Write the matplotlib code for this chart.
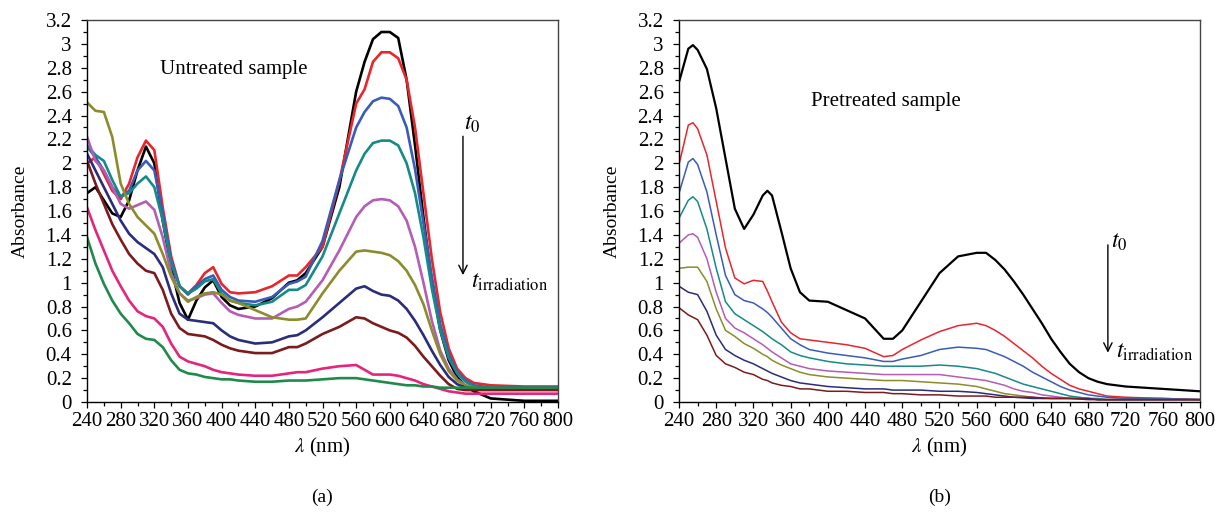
import matplotlib
matplotlib.use("Agg")
import matplotlib.pyplot as plt
from matplotlib.ticker import MultipleLocator

plt.rcParams["font.family"] = ["Liberation Serif", "DejaVu Serif"]
plt.rcParams["mathtext.fontset"] = "stix"

# (a) untreated sample: wavelength grid (nm) and absorbance per irradiation time
nm_a = [240, 250, 260, 270, 280, 290, 300, 310, 320, 330, 340, 350, 360, 370, 380,
        390, 400, 410, 420, 440, 460, 480, 490, 500, 520, 540, 560, 570, 580, 590,
        600, 610, 620, 630, 640, 650, 660, 670, 680, 690, 700, 720, 760, 800]

a_black = [1.75, 1.80, 1.69, 1.58, 1.55, 1.69, 1.94, 2.14, 2.00, 1.52, 1.13, 0.83, 0.69, 0.85, 0.96,
           1.02, 0.88, 0.81, 0.78, 0.80, 0.87, 1.00, 1.02, 1.08, 1.30, 1.80, 2.60, 2.85, 3.04, 3.10,
           3.10, 3.05, 2.70, 2.15, 1.55, 1.00, 0.60, 0.35, 0.21, 0.13, 0.09, 0.03, 0.01, 0.01]
a_red = [2.00, 2.05, 1.91, 1.77, 1.70, 1.83, 2.05, 2.19, 2.11, 1.63, 1.22, 0.97, 0.91, 0.98, 1.08,
         1.13, 0.99, 0.92, 0.91, 0.92, 0.97, 1.06, 1.06, 1.13, 1.30, 1.85, 2.50, 2.62, 2.85, 2.93,
         2.93, 2.88, 2.70, 2.30, 1.75, 1.20, 0.75, 0.45, 0.28, 0.20, 0.16, 0.14, 0.13, 0.13]
a_blue = [2.14, 2.05, 1.94, 1.80, 1.72, 1.77, 1.94, 2.02, 1.94, 1.58, 1.19, 0.97, 0.90, 0.97, 1.03,
          1.06, 0.94, 0.88, 0.85, 0.84, 0.88, 0.99, 1.01, 1.05, 1.35, 1.86, 2.30, 2.43, 2.52, 2.55,
          2.54, 2.48, 2.30, 1.95, 1.50, 1.05, 0.65, 0.40, 0.25, 0.18, 0.14, 0.12, 0.12, 0.12]
a_teal = [2.15, 2.07, 2.02, 1.86, 1.72, 1.75, 1.83, 1.89, 1.80, 1.52, 1.16, 0.97, 0.91, 0.95, 1.01,
          1.03, 0.91, 0.85, 0.83, 0.81, 0.84, 0.94, 0.94, 0.98, 1.22, 1.58, 1.94, 2.08, 2.17, 2.19,
          2.19, 2.15, 2.00, 1.75, 1.38, 0.95, 0.60, 0.37, 0.24, 0.17, 0.13, 0.11, 0.11, 0.11]
a_magenta = [2.22, 2.02, 1.94, 1.80, 1.66, 1.62, 1.65, 1.68, 1.61, 1.38, 1.08, 0.91, 0.85, 0.87, 0.90,
             0.91, 0.83, 0.76, 0.73, 0.70, 0.70, 0.78, 0.80, 0.84, 1.02, 1.27, 1.55, 1.64, 1.69, 1.70,
             1.69, 1.64, 1.52, 1.30, 1.00, 0.68, 0.43, 0.28, 0.19, 0.14, 0.12, 0.11, 0.11, 0.11]
a_olive = [2.51, 2.44, 2.43, 2.22, 1.83, 1.66, 1.55, 1.48, 1.41, 1.24, 1.05, 0.91, 0.84, 0.88, 0.91,
           0.92, 0.90, 0.85, 0.83, 0.77, 0.71, 0.69, 0.69, 0.70, 0.91, 1.10, 1.26, 1.27, 1.26, 1.25,
           1.23, 1.18, 1.10, 0.98, 0.82, 0.60, 0.40, 0.26, 0.18, 0.14, 0.12, 0.11, 0.11, 0.11]
a_navy = [2.08, 1.94, 1.80, 1.66, 1.52, 1.41, 1.34, 1.29, 1.24, 1.13, 0.91, 0.74, 0.69, 0.68, 0.67,
          0.66, 0.60, 0.55, 0.52, 0.49, 0.50, 0.55, 0.56, 0.60, 0.71, 0.83, 0.95, 0.97, 0.93, 0.90,
          0.89, 0.85, 0.78, 0.68, 0.56, 0.43, 0.31, 0.21, 0.15, 0.12, 0.11, 0.11, 0.11, 0.11]
a_maroon = [2.02, 1.83, 1.66, 1.49, 1.36, 1.24, 1.16, 1.10, 1.08, 0.94, 0.74, 0.62, 0.57, 0.56, 0.55,
            0.52, 0.48, 0.45, 0.43, 0.41, 0.41, 0.46, 0.46, 0.49, 0.57, 0.63, 0.71, 0.70, 0.66, 0.63,
            0.60, 0.58, 0.54, 0.47, 0.38, 0.30, 0.22, 0.15, 0.11, 0.10, 0.10, 0.10, 0.10, 0.10]
a_pink = [1.63, 1.44, 1.27, 1.10, 0.97, 0.85, 0.76, 0.72, 0.70, 0.63, 0.49, 0.38, 0.34, 0.32, 0.30,
          0.27, 0.25, 0.24, 0.23, 0.22, 0.22, 0.24, 0.25, 0.25, 0.28, 0.30, 0.31, 0.27, 0.23, 0.23,
          0.23, 0.22, 0.20, 0.18, 0.15, 0.13, 0.11, 0.09, 0.08, 0.07, 0.07, 0.07, 0.07, 0.07]
a_green = [1.38, 1.16, 0.99, 0.85, 0.74, 0.66, 0.57, 0.53, 0.52, 0.46, 0.35, 0.27, 0.24, 0.23, 0.21,
           0.20, 0.19, 0.19, 0.18, 0.17, 0.17, 0.18, 0.18, 0.18, 0.19, 0.20, 0.20, 0.19, 0.18, 0.17,
           0.16, 0.15, 0.14, 0.14, 0.13, 0.13, 0.12, 0.12, 0.12, 0.12, 0.12, 0.12, 0.12, 0.12]

# (b) pretreated sample
nm_b = [240, 250, 255, 260, 270, 280, 290, 300, 310, 320, 330, 335, 340, 350, 360, 370, 380,
        400, 420, 440, 460, 470, 480, 500, 520, 540, 560, 570, 580, 590, 600, 610, 620, 630,
        640, 650, 660, 670, 680, 690, 700, 720, 760, 800]

b_black = [2.68, 2.96, 2.99, 2.95, 2.79, 2.46, 2.04, 1.62, 1.45, 1.57, 1.73, 1.77, 1.73, 1.43, 1.12, 0.92, 0.85,
           0.84, 0.77, 0.70, 0.53, 0.53, 0.60, 0.84, 1.08, 1.22, 1.25, 1.25, 1.19, 1.11, 1.01, 0.90, 0.78, 0.66,
           0.53, 0.42, 0.32, 0.25, 0.20, 0.17, 0.15, 0.13, 0.11, 0.09]
b_red = [1.99, 2.32, 2.34, 2.29, 2.07, 1.68, 1.29, 1.04, 0.99, 1.02, 1.01, 0.93, 0.84, 0.67, 0.58, 0.53, 0.52,
         0.50, 0.48, 0.45, 0.38, 0.39, 0.44, 0.52, 0.59, 0.64, 0.66, 0.64, 0.60, 0.55, 0.49, 0.43, 0.37, 0.30,
         0.24, 0.19, 0.14, 0.11, 0.09, 0.07, 0.05, 0.04, 0.03, 0.02]
b_blue = [1.75, 2.01, 2.04, 1.99, 1.76, 1.40, 1.06, 0.90, 0.85, 0.83, 0.78, 0.75, 0.71, 0.62, 0.53, 0.48, 0.44,
          0.41, 0.39, 0.37, 0.34, 0.34, 0.36, 0.39, 0.44, 0.46, 0.45, 0.44, 0.41, 0.38, 0.34, 0.30, 0.25, 0.21,
          0.17, 0.13, 0.10, 0.08, 0.06, 0.05, 0.04, 0.03, 0.03, 0.02]
b_teal = [1.54, 1.69, 1.72, 1.68, 1.45, 1.12, 0.84, 0.74, 0.69, 0.64, 0.59, 0.56, 0.53, 0.48, 0.42, 0.39, 0.37,
          0.34, 0.32, 0.31, 0.30, 0.30, 0.30, 0.30, 0.31, 0.30, 0.28, 0.26, 0.24, 0.21, 0.18, 0.15, 0.13, 0.11,
          0.09, 0.07, 0.05, 0.04, 0.03, 0.03, 0.02, 0.02, 0.02, 0.02]
b_magenta = [1.33, 1.40, 1.41, 1.38, 1.20, 0.92, 0.70, 0.62, 0.58, 0.53, 0.48, 0.45, 0.42, 0.37, 0.32, 0.30, 0.28,
             0.26, 0.25, 0.24, 0.23, 0.23, 0.23, 0.23, 0.23, 0.21, 0.19, 0.18, 0.16, 0.14, 0.11, 0.09, 0.08, 0.06,
             0.05, 0.04, 0.03, 0.03, 0.03, 0.02, 0.02, 0.02, 0.02, 0.02]
b_olive = [1.12, 1.13, 1.13, 1.13, 1.01, 0.78, 0.60, 0.55, 0.49, 0.45, 0.40, 0.38, 0.35, 0.31, 0.28, 0.25, 0.23,
           0.21, 0.20, 0.19, 0.18, 0.18, 0.18, 0.17, 0.16, 0.15, 0.13, 0.11, 0.09, 0.07, 0.06, 0.05, 0.04, 0.03,
           0.03, 0.03, 0.03, 0.03, 0.03, 0.02, 0.02, 0.02, 0.02, 0.02]
b_navy = [0.97, 0.92, 0.91, 0.90, 0.76, 0.56, 0.44, 0.39, 0.35, 0.32, 0.28, 0.26, 0.24, 0.21, 0.18, 0.16, 0.15,
          0.13, 0.12, 0.11, 0.11, 0.10, 0.10, 0.10, 0.09, 0.09, 0.08, 0.07, 0.06, 0.05, 0.04, 0.035, 0.03, 0.03,
          0.03, 0.03, 0.03, 0.03, 0.03, 0.02, 0.02, 0.02, 0.02, 0.02]
b_maroon = [0.79, 0.73, 0.71, 0.69, 0.56, 0.39, 0.32, 0.29, 0.25, 0.23, 0.19, 0.18, 0.16, 0.14, 0.13, 0.11, 0.11,
            0.09, 0.09, 0.08, 0.08, 0.07, 0.07, 0.06, 0.06, 0.05, 0.05, 0.05, 0.04, 0.04, 0.04, 0.04, 0.04, 0.035,
            0.03, 0.03, 0.03, 0.025, 0.02, 0.02, 0.02, 0.02, 0.02, 0.02]

colors_a = ["#000000", "#e8262c", "#3a5cb8", "#168a87", "#b35db6",
            "#8c8c2c", "#2b2c7c", "#7c1b1d", "#e3257c", "#1f8a4b"]
colors_b = colors_a[:8]

series_a = [a_black, a_red, a_blue, a_teal, a_magenta, a_olive, a_navy, a_maroon, a_pink, a_green]
series_b = [b_black, b_red, b_blue, b_teal, b_magenta, b_olive, b_navy, b_maroon]


def style_axes(ax, ylab_x):
    ax.set_xlim(240, 800)
    ax.set_ylim(0, 3.2)
    ax.xaxis.set_major_locator(MultipleLocator(40))
    ax.xaxis.set_minor_locator(MultipleLocator(20))
    ax.yaxis.set_major_locator(MultipleLocator(0.2))
    ax.yaxis.set_minor_locator(MultipleLocator(0.1))
    ax.yaxis.set_major_formatter(plt.FuncFormatter(lambda v, p: f"{v:g}"))
    ax.tick_params(which="major", direction="out", length=4, width=0.9, labelsize=15)
    ax.tick_params(axis="y", which="major", pad=7)
    ax.tick_params(axis="x", which="major", pad=3)
    ax.tick_params(which="minor", direction="out", length=3, width=0.9)
    ax.tick_params(top=False, right=False, which="both")
    for side in ("top", "right"):
        ax.spines[side].set_color("#444444")
    for sp in ax.spines.values():
        sp.set_linewidth(1.0)
    ax.set_ylabel("Absorbance", fontsize=14)
    ax.yaxis.set_label_coords(ylab_x, 0.5)
    ax.set_xlabel(r"$\lambda$ (nm)", fontsize=15)
    ax.xaxis.set_label_coords(0.5, -0.088)


fig = plt.figure(figsize=(12.21, 5.12), dpi=100)
ax_a = fig.add_axes([0.0713, 0.2148, 0.3857, 0.746])
ax_b = fig.add_axes([0.5561, 0.2148, 0.4267, 0.746])

for y, c in zip(series_a, colors_a):
    ax_a.plot(nm_a, y, color=c, lw=1.9, solid_joinstyle="round")
for i, (y, c) in enumerate(zip(series_b, colors_b)):
    ax_b.plot(nm_b, y, color=c, lw=1.6 if i == 0 else 1.1, solid_joinstyle="round")

style_axes(ax_a, -0.124)
style_axes(ax_b, -0.112)

arrow = dict(arrowstyle="->,head_length=0.6,head_width=0.3", lw=1, color="black")

ax_a.text(327, 2.79, "Untreated sample", fontsize=15, va="center", ha="left")
ax_a.annotate("", xy=(687, 1.04), xytext=(687, 2.25), arrowprops=arrow)
ax_a.text(688, 2.33, r"$t_0$", fontsize=17, va="center", ha="left")
ax_a.text(696, 1.00, r"$t_{\rm irradiation}$", fontsize=17, va="center", ha="left")

ax_b.text(382, 2.52, "Pretreated sample", fontsize=15, va="center", ha="left")
ax_b.annotate("", xy=(701, 0.39), xytext=(701, 1.34), arrowprops=arrow)
ax_b.text(704, 1.34, r"$t_0$", fontsize=17, va="center", ha="left")
ax_b.text(710, 0.42, r"$t_{\rm irradiation}$", fontsize=17, va="center", ha="left")

fig.text(322 / 1221, 1 - 497 / 512, "(a)", fontsize=14, ha="center", va="center")
fig.text(940 / 1221, 1 - 497 / 512, "(b)", fontsize=14, ha="center", va="center")

fig.savefig("out.png", dpi=100)
